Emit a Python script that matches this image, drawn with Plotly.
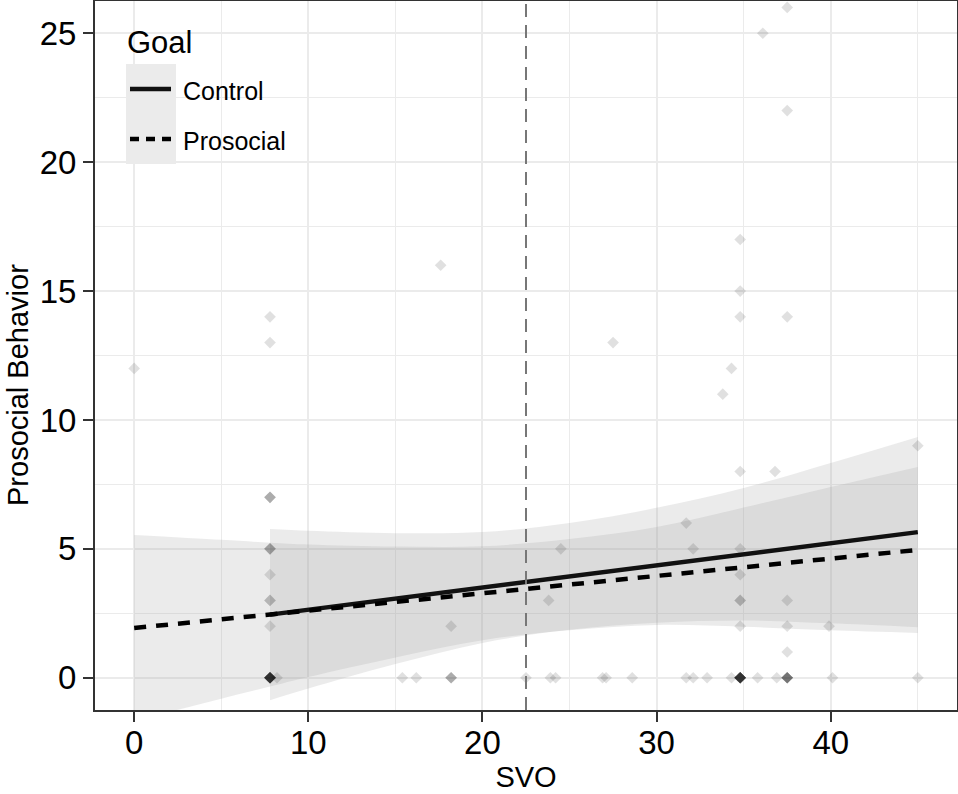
import plotly.graph_objects as go

# ---------------- data ----------------
# observed points (SVO, prosocial behavior, number of overlapping observations)
pts_x = [0, 7.8, 7.8, 7.8, 7.8, 7.8, 7.8, 7.8, 7.8, 8.2, 15.4, 16.2, 17.6, 18.2, 18.2,
         22.5, 23.8, 23.9, 24.2, 24.5, 26.9, 27.1, 27.5, 28.6, 31.7, 31.7, 32.1, 32.1,
         32.9, 33.8, 34.3, 34.3, 34.8, 34.8, 34.8, 34.8, 34.8, 34.8, 34.8, 34.8, 34.8,
         35.8, 36.1, 36.8, 36.9, 37.5, 37.5, 37.5, 37.5, 37.5, 37.5, 37.5, 39.9, 40.1,
         45, 45]
pts_y = [12, 14, 13, 7, 5, 4, 3, 2, 0, 0, 0, 0, 16, 2, 0,
         0, 3, 0, 0, 5, 0, 0, 13, 0, 6, 0, 5, 0,
         0, 11, 12, 0, 17, 15, 14, 8, 5, 4, 3, 2, 0,
         0, 25, 8, 0, 26, 22, 14, 3, 2, 1, 0, 2, 0,
         9, 0]
pts_n = [1, 1, 1, 3, 3, 1, 2, 1, 12, 1, 1, 1, 1, 1, 3,
         1, 1, 1, 1, 1, 1, 1, 1, 1, 1, 1, 1, 1,
         1, 1, 1, 1, 1, 1, 1, 1, 1, 1, 2, 1, 12,
         1, 1, 1, 1, 1, 1, 1, 1, 1, 1, 6, 1, 1,
         1, 1]

# fitted lines (endpoints)
control_x = [7.8, 45]
control_y = [2.45, 5.65]
prosocial_x = [0, 45]
prosocial_y = [1.93, 4.96]

# confidence bands read at several SVO values
control_band_x = [7.8, 10, 15, 20, 25, 30, 35, 40, 45]
control_upper = [5.77, 5.70, 5.61, 5.65, 6.00, 6.59, 7.36, 8.33, 9.34]
control_lower = [-0.87, -0.42, 0.53, 1.35, 1.86, 2.13, 2.22, 2.11, 1.96]

prosocial_band_x = [0, 5, 7.8, 10, 15, 20, 25, 30, 35, 40, 45]
prosocial_upper = [5.54, 5.35, 5.24, 5.17, 5.09, 5.10, 5.38, 5.85, 6.60, 7.40, 8.18]
prosocial_lower = [-1.68, -0.81, -0.34, 0.03, 0.79, 1.46, 1.84, 2.05, 1.98, 1.84, 1.74]

svo_mean = 22.5

x_ticks = [0, 10, 20, 30, 40]
y_ticks = [0, 5, 10, 15, 20, 25]
x_title = "SVO"
y_title = "Prosocial Behavior"
legend_title = "Goal"
legend_labels = ["Control", "Prosocial"]

FONT = "Liberation Sans, Arial, sans-serif"
BAND = "rgba(153,153,153,0.2)"

# ---------------- figure ----------------
fig = go.Figure()

for bx, lo, up in [(prosocial_band_x, prosocial_lower, prosocial_upper),
                   (control_band_x, control_lower, control_upper)]:
    fig.add_trace(go.Scatter(x=bx, y=lo, mode="lines", line=dict(width=0, shape="spline"),
                             hoverinfo="skip", showlegend=False))
    fig.add_trace(go.Scatter(x=bx, y=up, mode="lines", line=dict(width=0, shape="spline"),
                             fill="tonexty", fillcolor=BAND, hoverinfo="skip", showlegend=False))

ex, ey = [], []
for x, y, n in zip(pts_x, pts_y, pts_n):
    ex += [x] * n
    ey += [y] * n
fig.add_trace(go.Scatter(x=ex, y=ey, mode="markers",
                         marker=dict(symbol="diamond", size=9, color="black", opacity=0.12,
                                     line=dict(width=0)),
                         showlegend=False))

fig.add_trace(go.Scatter(x=control_x, y=control_y, mode="lines",
                         line=dict(color="#111111", width=4.5), name="Control", showlegend=False))
fig.add_trace(go.Scatter(x=prosocial_x, y=prosocial_y, mode="lines",
                         line=dict(color="#000000", width=4.5, dash="12px,10px"),
                         name="Prosocial", showlegend=False))

fig.add_vline(x=svo_mean, line=dict(color="#777777", width=2, dash="13px,8px"))

# ---------------- manual legend (ggplot style) ----------------
L, T, W, H = 95, 1, 862, 709
def px_x(p):
    return (p - L) / W
def px_y(p):
    return (T + H - p) / H

fig.add_shape(type="rect", xref="paper", yref="paper", layer="between",
              x0=px_x(110), x1=px_x(305), y0=px_y(176), y1=px_y(9),
              fillcolor="white", line=dict(width=0))
fig.add_shape(type="rect", xref="paper", yref="paper", layer="between",
              x0=px_x(126), x1=px_x(176), y0=px_y(164), y1=px_y(64),
              fillcolor=BAND, line=dict(width=0))
fig.add_shape(type="line", xref="paper", yref="paper", layer="above",
              x0=px_x(130), x1=px_x(171), y0=px_y(89), y1=px_y(89),
              line=dict(color="#111111", width=4.5))
fig.add_shape(type="line", xref="paper", yref="paper", layer="above",
              x0=px_x(130), x1=px_x(171), y0=px_y(139), y1=px_y(139),
              line=dict(color="#000000", width=4.5, dash="9px,7px"))

fig.add_annotation(text=legend_title, xref="paper", yref="paper", x=px_x(125), y=px_y(42),
                   xanchor="left", yanchor="middle", showarrow=False,
                   font=dict(family=FONT, size=31, color="black"))
for lab, yy in zip(legend_labels, [91, 141]):
    fig.add_annotation(text=lab, xref="paper", yref="paper", x=px_x(181), y=px_y(yy),
                       xanchor="left", yanchor="middle", showarrow=False,
                       font=dict(family=FONT, size=25, color="black"))

# y axis title placed as in the reference
fig.add_annotation(text=y_title, xref="paper", yref="paper", x=px_x(18), y=px_y(385),
                   xanchor="center", yanchor="middle", textangle=-90, showarrow=False,
                   font=dict(family=FONT, size=29, color="black"))

axis_common = dict(
    showline=True, mirror=True, linecolor="#333333", linewidth=2,
    ticks="outside", ticklen=10, tickwidth=2, tickcolor="#333333",
    showgrid=True, gridcolor="#EBEBEB", gridwidth=2, zeroline=False,
    tickfont=dict(family=FONT, size=33, color="black"),
    automargin=False,
)

fig.update_xaxes(range=[-2.25, 47.25], tickvals=x_ticks, ticklabelstandoff=-8,
                 minor=dict(dtick=5, showgrid=True, gridcolor="#EBEBEB", gridwidth=1, ticks=""),
                 title=dict(text=x_title, font=dict(family=FONT, size=29, color="black"), standoff=6),
                 **axis_common)
fig.update_yaxes(range=[-1.25, 26.25], tickvals=y_ticks,
                 minor=dict(dtick=2.5, showgrid=True, gridcolor="#EBEBEB", gridwidth=1, ticks=""),
                 **axis_common)

fig.update_layout(
    width=958, height=794,
    margin=dict(l=L, r=958 - L - W, t=T, b=794 - T - H),
    paper_bgcolor="white", plot_bgcolor="white",
    showlegend=False,
    font=dict(family=FONT),
)

fig.write_html("out.html", config={"displayModeBar": False},
               post_script="document.body.style.margin='0';document.body.style.overflow='hidden';")
